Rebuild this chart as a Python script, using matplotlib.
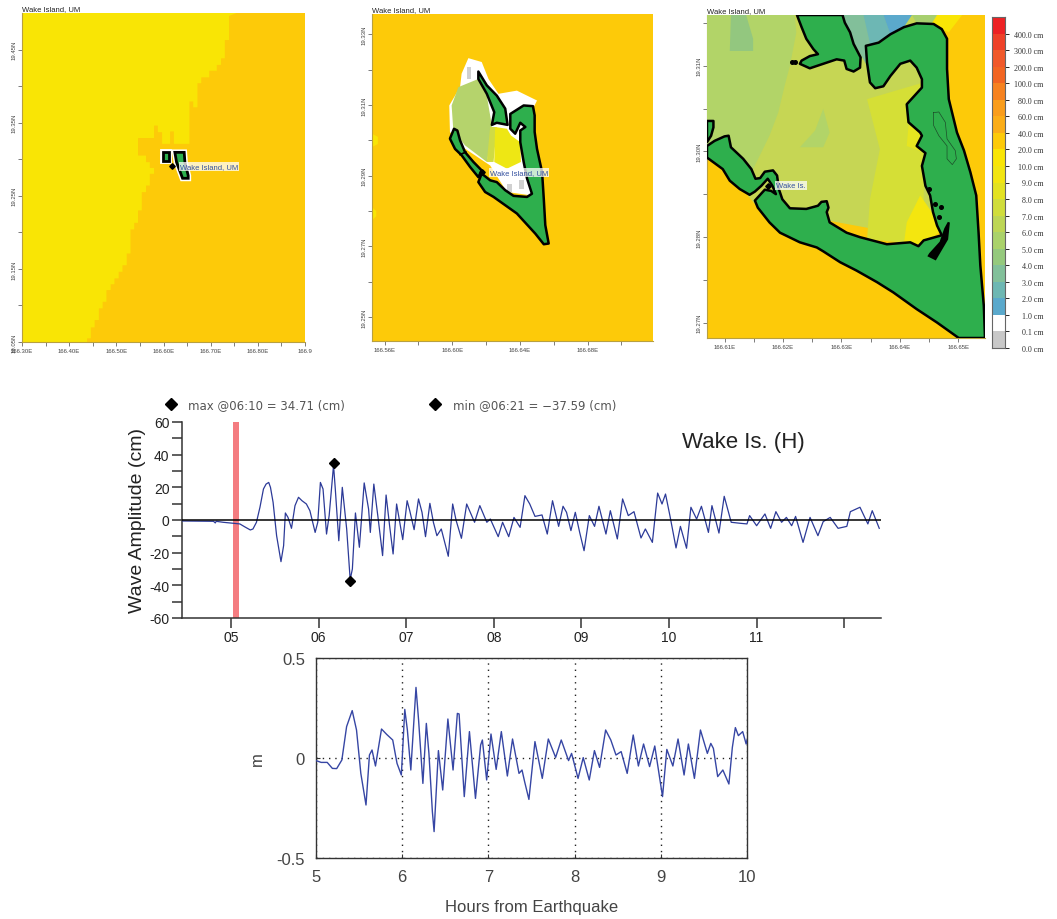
import matplotlib
matplotlib.use("Agg")
import matplotlib.pyplot as plt
import numpy as np
from matplotlib.colors import ListedColormap
from matplotlib.ticker import FixedLocator, MultipleLocator

plt.rcParams["axes.unicode_minus"] = False

W, H = 1057, 920

ORANGE = "#fdca09"
YELLOW = "#f9e505"
LAND = "#2eaf4d"
LABEL_BLUE = "#34519f"

# --- gauge trace, hours and cm
trace_hours = [4.44, 4.80, 4.82, 4.83, 4.91, 5.03, 5.10, 5.16, 5.22, 5.25, 5.29, 5.33, 5.37, 5.40, 5.43, 5.45,
               5.48, 5.52, 5.57, 5.60, 5.62, 5.65, 5.69, 5.73, 5.77, 5.81, 5.86, 5.90, 5.96, 5.99, 6.02, 6.05,
               6.09, 6.12, 6.17, 6.19, 6.23, 6.27, 6.32, 6.36, 6.385, 6.42, 6.465, 6.52, 6.57, 6.59, 6.63, 6.68,
               6.73, 6.77, 6.81, 6.85, 6.89, 6.92, 6.96, 7.01, 7.04, 7.09, 7.14, 7.18, 7.22, 7.27, 7.31, 7.35,
               7.40, 7.48, 7.53, 7.57, 7.63, 7.69, 7.78, 7.84, 7.92, 7.96, 8.05, 8.10, 8.17, 8.23, 8.30, 8.355,
               8.41, 8.47, 8.55, 8.61, 8.67, 8.74, 8.79, 8.83, 8.88, 8.93, 8.98, 9.03, 9.09, 9.15, 9.20, 9.28,
               9.33, 9.41, 9.47, 9.535, 9.60, 9.68, 9.73, 9.81, 9.87, 9.92, 9.96, 10.01, 10.08, 10.13, 10.20, 10.25,
               10.315, 10.37, 10.45, 10.49, 10.57, 10.63, 10.71, 10.81, 10.89, 10.92, 11.0, 11.095, 11.16, 11.22,
               11.285, 11.34, 11.40, 11.445, 11.53, 11.61, 11.70, 11.76, 11.84, 11.93, 12.03, 12.07, 12.18, 12.27,
               12.32, 12.40]
trace_cm = [-0.6, -0.8, -1.8, -0.8, -1.4, -2.0, -2.4, -4.3, -6.1, -5.5, -1.4, 7.8, 19.0, 22, 23, 20,
            10.8, -9.6, -25.5, -15.7, 4.3, 1.6, -5.1, 8.8, 13.9, 11.8, 9.8, 5.7, -7.6, -1.4, 23, 19,
            -8.6, 2.7, 33.5, 19, -12.7, 20, -5.5, -36.5, -30, 4.3, -16.7, 22.7, 6.7, -7.6, 22, 0.6,
            -21.8, 15.3, -3.5, -20.8, 9.8, 0.6, -12, 11.8, 5.7, -5.9, 12.9, 4.7, -10.2, 10.2, -1.4, -9.6,
            -5.5, -22.2, 9.8, -0.4, -11.2, 9.8, -1.4, 8.8, -1.4, 0.6, -10.2, -1.4, -10.2, 1.6, -4.5, 14.9,
            9.8, 2.2, 3.1, -8.6, 11.8, -3.9, 8.4, 4.7, -6.5, 4.7, -7.6, -18.8, 2.7, -3.9, 8.4, -8.6,
            5.7, -11.6, 12.9, 2.7, 5.1, -11, -5.5, -13.7, 16.5, 9.8, 15.9, 2.7, -17.1, -3.9, -17.3, 7.8,
            0.6, 8.4, -7.6, 8.8, -8, 14.5, -1.4, -2, -2.4, 2.7, -3.5, 3.7, -5.1, 5.1,
            -1.4, 1.6, -3.5, 2.2, -13.7, 1.6, -9.6, -1, 1.6, -5.1, -3.9, 5.1, 7.8, -2.4,
            5.7, -5.1]
max_hour, max_cm = 6.17, 34.71
min_hour, min_cm = 6.36, -37.59
arrival_band = [5.02, 5.095]
gauge_hour_labels = ["05", "06", "07", "08", "09", "10", "11", ""]

# --- model trace, hours and metres
model_hours = [5.00, 5.06, 5.13, 5.19, 5.24, 5.30, 5.355, 5.42, 5.47, 5.52, 5.58, 5.62, 5.65, 5.69, 5.76, 5.82,
               5.89, 5.94, 5.99, 6.03, 6.06, 6.10, 6.16, 6.19, 6.24, 6.28, 6.31, 6.35, 6.37, 6.42, 6.47, 6.53,
               6.59, 6.64, 6.66, 6.72, 6.78, 6.85, 6.91, 6.93, 6.98, 7.03, 7.09, 7.15, 7.22, 7.28, 7.355, 7.39,
               7.42, 7.47, 7.54, 7.625, 7.695, 7.78, 7.845, 7.93, 7.965, 8.04, 8.10, 8.17, 8.23, 8.29, 8.36, 8.42,
               8.48, 8.54, 8.61, 8.68, 8.74, 8.80, 8.87, 8.93, 9.02, 9.07, 9.14, 9.20, 9.27, 9.32, 9.39, 9.46,
               9.54, 9.58, 9.61, 9.66, 9.72, 9.79, 9.83, 9.865, 9.90, 9.95, 9.99, 10.0]
model_m = [-0.013, -0.022, -0.022, -0.052, -0.053, -0.01, 0.157, 0.237, 0.14, -0.077, -0.235, 0.015, 0.04, -0.04, 0.145, 0.118,
           0.09, -0.027, -0.085, 0.243, 0.14, -0.06, 0.353, 0.19, -0.127, 0.173, 0.023, -0.268, -0.368, 0.037, -0.16, 0.195,
           -0.06, 0.223, 0.22, -0.193, 0.132, -0.202, 0.065, 0.09, -0.11, 0.12, -0.057, 0.132, -0.09, 0.095, -0.077, -0.06,
           -0.118, -0.207, 0.082, -0.102, 0.095, 0.003, 0.09, -0.013, 0.023, -0.102, 0.002, -0.11, 0.037, -0.047, 0.14, 0.09,
           0.015, 0.032, -0.077, 0.115, -0.04, 0.07, -0.043, 0.06, -0.193, 0.043, -0.04, 0.095, -0.085, 0.07, -0.102, 0.14,
           0.023, 0.073, 0.048, -0.093, -0.06, -0.13, 0.053, 0.152, 0.112, 0.132, 0.07, 0.09]

# --- colour scale, bottom cell first
scale_colors = ["#c8c8c8", "#ffffff", "#5aa9cc", "#6db7b3", "#82c09a", "#95c97d", "#aad26a", "#bdd655", "#d0dd3c",
                "#e3e222", "#f2e511", "#f9e505", "#fdca09", "#fbad18", "#f99d1c", "#f68220", "#f26522", "#f0592a",
                "#ee4128", "#ed2224"]
scale_labels = ["0.0 cm", "0.1 cm", "1.0 cm", "2.0 cm", "3.0 cm", "4.0 cm", "5.0 cm", "6.0 cm", "7.0 cm", "8.0 cm",
                "9.0 cm", "10.0 cm", "20.0 cm", "40.0 cm", "60.0 cm", "80.0 cm", "100.0 cm", "200.0 cm", "300.0 cm",
                "400.0 cm"]

# --- regional map: edge between the two amplitude bands, and the islands
m1_edge_lon = [.755, .739, .739, .730, .730, .722, .722, .713, .713, .697, .697, .680, .680, .672, .672, .663, .663,
               .655, .655, .647, .622, .622, .614, .614, .605, .597, .597, .588, .588, .580, .580, .546, .546, .563,
               .563, .571, .571, .580, .580, .571, .571, .563, .563, .554, .554, .546, .546, .538, .538, .530, .530,
               .522, .522, .513, .513, .505, .505, .496, .496, .488, .488, .479, .479, .471, .471, .463, .463, .454,
               .454, .446, .446, .438, .438]
m1_edge_lat = [.500, .496, .463, .463, .438, .438, .429, .429, .421, .421, .412, .412, .404, .404, .371, .371, .379,
               .379, .321, .321, .321, .338, .338, .321, .321, .321, .337, .337, .346, .346, .329, .329, .305, .305,
               .296, .296, .288, .288, .280, .280, .264, .264, .255, .255, .230, .230, .213, .213, .204, .204, .171,
               .171, .155, .155, .146, .146, .137, .137, .129, .129, .121, .121, .105, .105, .096, .096, .080, .080,
               .070, .070, .055, .055, .050]
m1_peale_lon = [.5994, .6107, .6107, .5994]
m1_peale_lat = [.3094, .3094, .2981, .2981]
m1_wake_lon = [.6241, .6439, .6454, .6524, .6524, .6404, .6277]
m1_wake_lat = [.3094, .3094, .2958, .2776, .2739, .2739, .2958]
m1_station = (.6171, .2903)
m1_ticks_lon = [.30, .40, .50, .60, .70, .80, .90]
m1_lon_labels = ["166.30E", "166.40E", "166.50E", "166.60E", "166.70E", "166.80E", "166.9"]
m1_ticks_lat = [.05, .15, .25, .35, .45]
m1_lat_labels = ["19.05N", "19.15N", "19.25N", "19.35N", "19.45N"]

# --- intermediate map
m2_white_lon = [.6095, .6174, .6214, .6273, .6382, .6501, .6477, .6451, .6471, .6323, .6224, .6046, .5986, .5982, .6046, .6055]
m2_white_lat = [.3233, .3222, .3174, .3132, .3141, .3113, .3090, .2910, .2844, .2854, .2929, .2986, .3024, .3099, .3151, .3189]
m2_green_lon = [.6036, .6154, .6204, .6234, .6224, .6204, .6075, .6006, .5996]
m2_green_lat = [.3151, .3174, .3127, .3042, .2986, .2939, .2986, .3028, .3099]
m2_mid_lon = [.6224, .6263, .6244, .6204]
m2_mid_lat = [.3038, .3038, .2939, .2939]
m2_yellow_lon = [.6253, .6323, .6347, .6402, .6406, .6323, .6248]
m2_yellow_lat = [.3038, .3033, .3014, .2995, .2939, .2920, .2939]
m2_patch1_lon = [.5525, .5560, .5560, .5525]
m2_patch1_lat = [.3019, .3010, .2990, .2981]
m2_patch2_lon = [.5525, .5550, .5550, .5525]
m2_patch2_lat = [.2811, .2800, .2785, .2774]
m2_grey1_lon = [.6323, .6352, .6352, .6323]
m2_grey1_lat = [.2877, .2877, .2854, .2854]
m2_grey2_lon = [.6392, .6422, .6422, .6392]
m2_grey2_lat = [.2887, .2887, .2863, .2863]
m2_grey3_lon = [.6085, .6109, .6109, .6085]
m2_grey3_lat = [.3207, .3207, .3174, .3174]
m2_north_lon = [.6154, .6204, .6263, .6313, .6327, .6263, .6234, .6248, .6204, .6154]
m2_north_lat = [.3195, .3156, .3127, .3090, .3044, .3050, .3044, .3080, .3132, .3174]
m2_main_lon = [.6343, .6422, .6477, .6487, .6487, .6501, .6531, .6541, .6550, .6570, .6541, .6491, .6382, .6244, .6194,
               .6154, .6174, .6224, .6263, .6313, .6362, .6442, .6471, .6442, .6422, .6402, .6402, .6432, .6402, .6372, .6343]
m2_main_lat = [.3075, .3099, .3097, .3071, .3024, .2976, .2910, .2835, .2760, .2708, .2706, .2736, .2793, .2840, .2854,
               .2882, .2906, .2887, .2882, .2859, .2843, .2840, .2849, .2892, .2939, .2995, .3028, .3038, .3050, .3019, .3033]
m2_west_lon = [.5986, .6010, .6030, .6046, .6075, .6125, .6174, .6154, .6105, .6055, .6016]
m2_west_lat = [.3005, .3033, .3028, .3000, .2967, .2939, .2915, .2896, .2925, .2958, .2976]
m2_divider_lon = [.6046, .6081]
m2_divider_lat = [.2960, .2967]
m2_station = (.6174, .2910)
m2_ticks_lon = [.56, .60, .64, .68]
m2_lon_labels = ["166.56E", "166.60E", "166.64E", "166.68E"]
m2_ticks_lat = [.25, .27, .29, .31, .33]
m2_lat_labels = ["19.25N", "19.27N", "19.29N", "19.31N", "19.33N"]

# --- detail map
m3_main_lon = [.6070, .6083, .6100, .6107, .6111, .6132, .6146, .6153, .6161, .6169, .6183, .6190, .6193, .6199, .6212,
               .6240, .6260, .6266, .6275, .6278, .6275, .6280, .6309, .6332, .6378, .6418, .6432, .6441, .6472, .6464,
               .6457, .6452, .6444, .6438, .6444, .6429, .6438, .6435, .6415, .6412, .6438, .6438, .6429, .6418, .6401,
               .6384, .6372, .6358, .6349, .6344, .6342, .6364, .6384, .6407, .6429, .6458, .6472, .6481, .6481, .6484,
               .6498, .6510, .6521, .6531, .6535, .6538, .6544, .6546, .6501, .6464, .6429, .6389, .6361, .6326, .6298,
               .6269, .6258, .6229, .6195, .6177, .6157, .6152, .6169, .6180, .6188, .6182, .6174, .6163, .6152, .6143,
               .6126, .6109, .6097, .6070]
m3_main_lat = [.2975, .2983, .2990, .2991, .2973, .2955, .2939, .2924, .2925, .2935, .2937, .2929, .2908, .2892, .2878,
               .2877, .2882, .2888, .2889, .2879, .2872, .2856, .2840, .2833, .2822, .2825, .2819, .2828, .2836, .2851,
               .2872, .2898, .2913, .2944, .2964, .2975, .2991, .2996, .3012, .3040, .3066, .3079, .3097, .3108, .3103,
               .3084, .3068, .3065, .3074, .3105, .3131, .3136, .3149, .3160, .3166, .3165, .3157, .3142, .3095, .3048,
               .2996, .2968, .2934, .2898, .2840, .2789, .2726, .2676, .2676, .2700, .2721, .2747, .2763, .2781, .2794,
               .2811, .2817, .2825, .2840, .2856, .2879, .2890, .2907, .2905, .2900, .2913, .2924, .2913, .2904, .2899,
               .2908, .2921, .2939, .2957]
m3_north_lon = [.6224, .6232, .6240, .6252, .6260, .6246, .6232, .6229, .6246, .6269, .6292, .6305, .6309, .6321, .6332,
                .6333, .6321, .6315, .6306, .6302]
m3_north_lat = [.3179, .3160, .3142, .3126, .3118, .3115, .3108, .3103, .3096, .3103, .3110, .3108, .3095, .3091, .3097,
                .3113, .3134, .3152, .3167, .3179]
m3_west_lon = [.6070, .6081, .6081, .6077, .6070]
m3_west_lat = [.3014, .3014, .3004, .2991, .2981]
m3_pond_lon = [.6458, .6467, .6478, .6481, .6495, .6497, .6490, .6481, .6481, .6467, .6458, .6458]
m3_pond_lat = [.3027, .3028, .3012, .2986, .2968, .2955, .2946, .2955, .2975, .2991, .3007, .3027]
m3_islet_lon = [.6450, .6461, .6470, .6467, .6215, .6221]
m3_islet_lat = [.2908, .2885, .2880, .2864, .3106, .3106]
m3_reef_lon = [.6450, .6461, .6481, .6484, .6478, .6470, .6452]
m3_reef_lat = [.2804, .2799, .2830, .2856, .2846, .2825, .2807]
m3_lagoon_lon = [.6070, .6464, .6481, .6484, .6498, .6450, .6157, .6070]
m3_lagoon_lat = [.3179, .3179, .3142, .3048, .2996, .2830, .2879, .2975]
m3_nw_lon = [.6070, .6220, .6223, .6212, .6203, .6192, .6177, .6149, .6070]
m3_nw_lat = [.3179, .3179, .3152, .3100, .3069, .3027, .2991, .2939, .2975]
m3_top_patch_lon = [.6111, .6137, .6149, .6149, .6109]
m3_top_patch_lat = [.3179, .3179, .3142, .3123, .3123]
m3_mid_patch_lon = [.6269, .6280, .6269, .6229, .6255]
m3_mid_patch_lat = [.3033, .2996, .2973, .2973, .2999]
m3_east_lon = [.6344, .6441, .6441, .6452, .6344, .6349, .6366]
m3_east_lat = [.3048, .3074, .2892, .2820, .2830, .2892, .2970]
m3_east2_lon = [.6415, .6438, .6441, .6412]
m3_east2_lat = [.3007, .2996, .2965, .2975]
m3_se_lon = [.6435, .6475, .6441, .6407, .6412]
m3_se_lat = [.2898, .2846, .2822, .2822, .2856]
m3_teal1_lon = [.6302, .6372, .6389, .6344, .6344, .6321]
m3_teal1_lat = [.3179, .3179, .3152, .3131, .3100, .3136]
m3_teal2_lon = [.6338, .6372, .6384, .6350]
m3_teal2_lat = [.3179, .3179, .3149, .3131]
m3_blue_lon = [.6372, .6421, .6407, .6384]
m3_blue_lat = [.3179, .3179, .3160, .3149]
m3_top_green_lon = [.6421, .6464, .6455, .6429]
m3_top_green_lat = [.3179, .3179, .3166, .3166]
m3_top_yellow_lon = [.6464, .6507, .6484, .6472, .6455]
m3_top_yellow_lat = [.3179, .3179, .3152, .3157, .3166]
m3_station = (.6174, .2913)
m3_ticks_lon = [.61, .62, .63, .64, .65]
m3_lon_labels = ["166.61E", "166.62E", "166.63E", "166.64E", "166.65E"]
m3_ticks_lat = [.27, .28333, .29667, .31]
m3_lat_labels = ["19.27N", "19.28N", "19.30N", "19.31N"]


def pixel_axes(fig, left, top, right, bottom):
    return fig.add_axes([left / W, 1 - bottom / H, (right - left) / W, (bottom - top) / H])


def fill_area(ax, lon, lat, color, z=2):
    ax.fill(166 + np.array(lon), 19 + np.array(lat), color=color, lw=0, zorder=z)


def land(ax, lon, lat, lw=1.8, z=5):
    ax.fill(166 + np.array(lon), 19 + np.array(lat), facecolor=LAND, edgecolor="black", lw=lw, joinstyle="round", zorder=z)


def map_axes(ax, xlim, ylim, xticks, xlabels, yticks, ylabels, xminor, yminor):
    ax.set_xlim(xlim)
    ax.set_ylim(ylim)
    ax.set_facecolor(ORANGE)
    for side in ["top", "right"]:
        ax.spines[side].set_visible(False)
    for side in ["left", "bottom"]:
        ax.spines[side].set_color("#b8a040")
        ax.spines[side].set_linewidth(0.8)
    ax.set_xticks(166 + np.array(xticks))
    ax.set_xticklabels(xlabels, fontsize=4.3, color="#444444", family="Liberation Sans")
    ax.set_yticks(19 + np.array(yticks))
    ax.set_yticklabels(ylabels, fontsize=4.3, color="#444444", family="Liberation Sans", rotation=90, va="center")
    ax.xaxis.set_minor_locator(FixedLocator(166 + np.array(xminor)))
    ax.yaxis.set_minor_locator(FixedLocator(19 + np.array(yminor)))
    ax.tick_params(which="both", length=3, width=0.6, color="#666666", pad=1.2)
    ax.text(0, 1.004, "Wake Island, UM", transform=ax.transAxes, fontsize=5.5, color="#222222",
            family="Liberation Sans", va="bottom")


def station(ax, where, label, dx):
    lon, lat = 166 + where[0], 19 + where[1]
    ax.plot([lon], [lat], "D", color="black", ms=2.8, zorder=8)
    ax.annotate(label, (lon, lat), xytext=(dx, 0), textcoords="offset points", fontsize=5.5, color=LABEL_BLUE,
                family="Liberation Sans", va="center", zorder=9,
                bbox=dict(facecolor="white", edgecolor="none", alpha=0.75, pad=0.6))


def draw_map1(fig):
    ax = pixel_axes(fig, 22, 14, 305, 343)
    map_axes(ax, (166.30, 166.90), (19.05, 19.50), m1_ticks_lon, m1_lon_labels, m1_ticks_lat, m1_lat_labels,
             [.35, .45, .55, .65, .75, .85], [.10, .20, .30, .40])
    ax.set_facecolor(YELLOW)
    edge_lon = m1_edge_lon + [.90, .90]
    edge_lat = m1_edge_lat + [.05, .50]
    fill_area(ax, edge_lon, edge_lat, ORANGE)
    for lon, lat in [(m1_peale_lon, m1_peale_lat), (m1_wake_lon, m1_wake_lat)]:
        ax.fill(166 + np.array(lon), 19 + np.array(lat), facecolor="none", edgecolor="white", lw=4.2, joinstyle="miter", zorder=4)
        ax.fill(166 + np.array(lon), 19 + np.array(lat), facecolor=LAND, edgecolor="black", lw=2.0, joinstyle="miter", zorder=5)
    station(ax, m1_station, "Wake Island, UM", 6)


def draw_map2(fig):
    ax = pixel_axes(fig, 372, 15, 653, 342)
    map_axes(ax, (166.5525, 166.7187), (19.2432, 19.3358), m2_ticks_lon, m2_lon_labels, m2_ticks_lat, m2_lat_labels,
             [.58, .62, .66, .70], [.26, .28, .30, .32])
    fill_area(ax, m2_patch1_lon, m2_patch1_lat, YELLOW)
    fill_area(ax, m2_patch2_lon, m2_patch2_lat, YELLOW)
    fill_area(ax, m2_white_lon, m2_white_lat, "white")
    fill_area(ax, m2_green_lon, m2_green_lat, "#b5d36c", 3)
    fill_area(ax, m2_mid_lon, m2_mid_lat, "#cfdb45", 3)
    fill_area(ax, m2_yellow_lon, m2_yellow_lat, "#eee714", 3)
    fill_area(ax, m2_grey1_lon, m2_grey1_lat, "#d0d0d0", 3)
    fill_area(ax, m2_grey2_lon, m2_grey2_lat, "#d0d0d0", 3)
    fill_area(ax, m2_grey3_lon, m2_grey3_lat, "#d0d0d0", 3)
    land(ax, m2_north_lon, m2_north_lat)
    land(ax, m2_main_lon, m2_main_lat)
    land(ax, m2_west_lon, m2_west_lat)
    ax.plot(166 + np.array(m2_divider_lon), 19 + np.array(m2_divider_lat), color="black", lw=1.2, zorder=6)
    station(ax, m2_station, "Wake Island, UM", 6)


def draw_map3(fig):
    ax = pixel_axes(fig, 707, 16, 985, 339)
    map_axes(ax, (166.6070, 166.6546), (19.2676, 19.3179), m3_ticks_lon, m3_lon_labels, m3_ticks_lat, m3_lat_labels,
             [.615, .625, .635, .645], [.27667, .29, .30333, .31667])
    fill_area(ax, m3_lagoon_lon, m3_lagoon_lat, "#c6d654")
    fill_area(ax, m3_nw_lon, m3_nw_lat, "#b2d468", 3)
    fill_area(ax, m3_top_patch_lon, m3_top_patch_lat, "#93c77f", 4)
    fill_area(ax, m3_mid_patch_lon, m3_mid_patch_lat, "#b2d468", 3)
    fill_area(ax, m3_east_lon, m3_east_lat, "#d5df36", 3)
    fill_area(ax, m3_east2_lon, m3_east2_lat, "#e7e520", 4)
    fill_area(ax, m3_se_lon, m3_se_lat, "#f4e60f", 4)
    fill_area(ax, m3_teal1_lon, m3_teal1_lat, "#82bf9a", 3)
    fill_area(ax, m3_teal2_lon, m3_teal2_lat, "#6db7b4", 4)
    fill_area(ax, m3_blue_lon, m3_blue_lat, "#5ba9cc", 4)
    fill_area(ax, m3_top_green_lon, m3_top_green_lat, "#a7cf6f", 3)
    fill_area(ax, m3_top_yellow_lon, m3_top_yellow_lat, YELLOW, 3)
    land(ax, m3_main_lon, m3_main_lat)
    land(ax, m3_north_lon, m3_north_lat)
    land(ax, m3_west_lon, m3_west_lat)
    ax.plot(166 + np.array(m3_pond_lon), 19 + np.array(m3_pond_lat), color="#1d4d2a", lw=0.5, zorder=6)
    ax.fill(166 + np.array(m3_reef_lon), 19 + np.array(m3_reef_lat), facecolor="black", edgecolor="black", lw=1.6, zorder=6)
    ax.plot(166 + np.array(m3_islet_lon), 19 + np.array(m3_islet_lat), "o", color="black", ms=2.6, zorder=6)
    station(ax, m3_station, "Wake Is.", 6)


def draw_scale(fig):
    ax = pixel_axes(fig, 992, 18, 1005, 349)
    cells = np.arange(len(scale_colors)).reshape(-1, 1)
    ax.pcolormesh([0, 1], np.arange(len(scale_colors) + 1), cells, cmap=ListedColormap(scale_colors))
    ax.set_xticks([])
    ax.yaxis.tick_right()
    ax.set_yticks(np.arange(len(scale_labels)))
    ax.set_yticklabels(scale_labels, fontsize=5.8, family="Liberation Serif", color="#333333", ha="right")
    ax.tick_params(axis="y", length=3, width=0.6, pad=24.5)
    for spine in ax.spines.values():
        spine.set_color("#666666")
        spine.set_linewidth(0.8)


def draw_gauge(fig):
    ax = pixel_axes(fig, 182, 423, 881, 619)
    ax.plot(trace_hours, trace_cm, color="#2c3a98", lw=0.9, zorder=3)
    ax.axhline(0, color="black", lw=1.1, zorder=4)
    ax.axvspan(arrival_band[0], arrival_band[1], color="#f47c80", lw=0, zorder=2)
    ax.plot([max_hour, min_hour], [max_cm, min_cm], "D", color="black", ms=5.5, zorder=5)
    ax.set_xlim(4.44, 12.42)
    ax.set_ylim(-60, 60)
    ax.set_xticks(np.arange(5, 13))
    ax.set_xticklabels(gauge_hour_labels, fontsize=10, color="#222222", family="Liberation Sans")
    ax.yaxis.set_major_locator(MultipleLocator(20))
    ax.yaxis.set_minor_locator(MultipleLocator(10))
    ax.tick_params(axis="y", labelsize=10, labelcolor="#222222", pad=2)
    ax.tick_params(which="both", length=7, width=1.1, color="#333333")
    ax.tick_params(axis="x", pad=2)
    for label in ax.get_yticklabels():
        label.set_family("Liberation Sans")
    for side in ["top", "right"]:
        ax.spines[side].set_visible(False)
    for side in ["left", "bottom"]:
        ax.spines[side].set_linewidth(1.1)
        ax.spines[side].set_color("#333333")
    ax.set_ylabel("Wave Amplitude (cm)", fontsize=14, family="Liberation Sans", color="#222222")
    ax.yaxis.set_label_coords(-0.051, 0.5)
    ax.text(0.716, 0.9, "Wake Is. (H)", transform=ax.transAxes, fontsize=16, family="Liberation Sans",
            color="#222222", va="center")
    ax.plot([-0.016, 0.362], [1.09, 1.09], "D", color="black", ms=6.5, clip_on=False, transform=ax.transAxes)
    ax.text(0.009, 1.09, f"max @06:10 = {max_cm} (cm)", transform=ax.transAxes, fontsize=8.5, color="#555555", va="center")
    ax.text(0.387, 1.09, f"min @06:21 = \u2212{abs(min_cm)} (cm)", transform=ax.transAxes, fontsize=8.5, color="#555555", va="center")


def draw_model(fig):
    ax = pixel_axes(fig, 316, 659, 747, 859)
    ax.plot(model_hours, model_m, color="#3646a4", lw=1.0, zorder=3)
    ax.set_xlim(5, 10)
    ax.set_ylim(-0.5, 0.5)
    ax.set_xticks(np.arange(5, 11))
    ax.set_yticks([-0.5, 0, 0.5])
    ax.set_yticklabels(["-0.5", "0", "0.5"])
    ax.tick_params(direction="in", length=3, width=0.8, labelsize=12, labelcolor="#444444", color="#333333")
    ax.tick_params(axis="x", pad=8)
    ax.tick_params(axis="y", pad=8)
    for label in ax.get_xticklabels() + ax.get_yticklabels():
        label.set_family("Liberation Sans")
    ax.grid(True, color="#222222", ls=(0, (1, 3.5)), lw=1.0)
    for spine in ax.spines.values():
        spine.set_linewidth(1.0)
        spine.set_color("#333333")
    ax.set_xlabel("Hours from Earthquake", fontsize=12, family="Liberation Sans", color="#444444", labelpad=11)
    ax.set_ylabel("m", fontsize=12, family="Liberation Sans", color="#444444")
    ax.yaxis.set_label_coords(-0.119, 0.5)


def main():
    fig = plt.figure(figsize=(W / 100, H / 100), dpi=100)
    draw_map1(fig)
    draw_map2(fig)
    draw_map3(fig)
    draw_scale(fig)
    draw_gauge(fig)
    draw_model(fig)
    fig.savefig("out.png", dpi=100)


if "__main__" == __name__:
    main()
